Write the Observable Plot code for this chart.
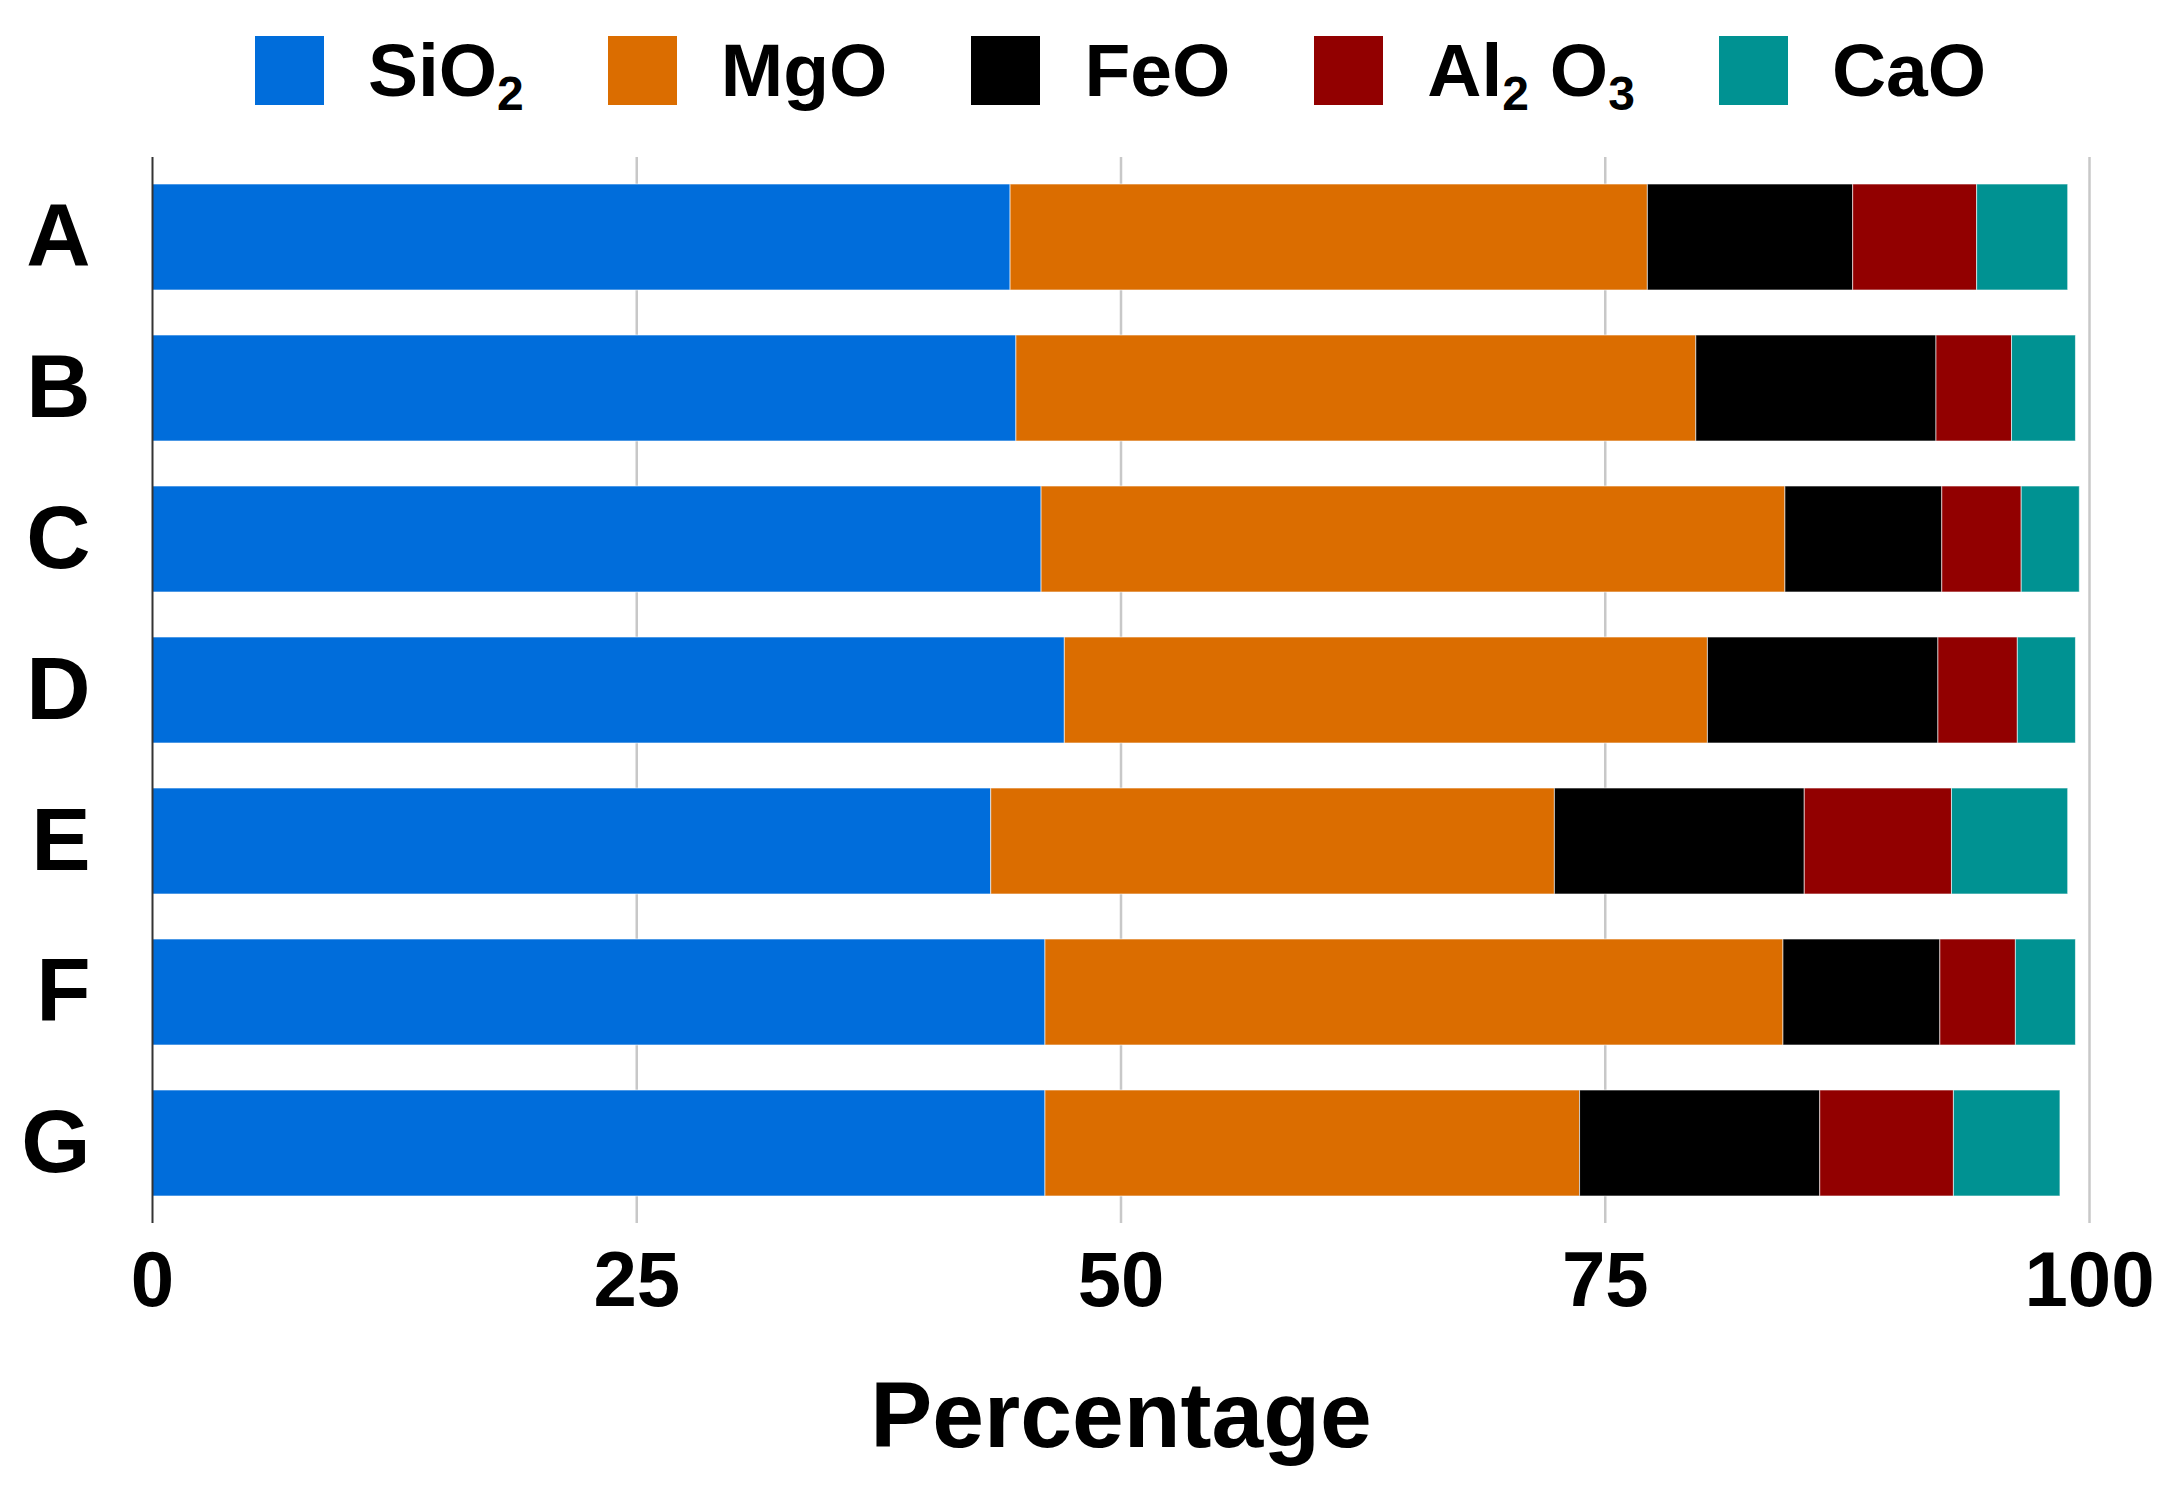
<!DOCTYPE html>
<html>
<head>
<meta charset="utf-8">
<script src="https://cdn.jsdelivr.net/npm/d3@7"></script>
<script src="https://cdn.jsdelivr.net/npm/@observablehq/plot@0.6"></script>
<style>
  html, body { margin: 0; padding: 0; background: #fff; }
  body { width: 2176px; font-family: "Liberation Sans", Arial, sans-serif; }
  #legend {
    height: 130px; box-sizing: border-box; padding: 36px 87px 0 152px;
    display: flex; justify-content: center; align-items: flex-start; gap: 84px;
  }
  .item { display: flex; align-items: flex-start; gap: 44px; }
  .sw { width: 69px; height: 69px; }
  .lbl { font-size: 75px; font-weight: bold; line-height: 69px; color: #000; white-space: nowrap; }
  .lbl .s { font-size: 48px; position: relative; top: 14px; line-height: 0; }
</style>
</head>
<body>
<div id="legend"></div>
<div id="chart"></div>
<script>
const samples = ["A", "B", "C", "D", "E", "F", "G"];
const oxides = ["SiO2", "MgO", "FeO", "Al2O3", "CaO"];
const oxideLabels = ["SiO<span class='s'>2</span>", "MgO", "FeO", "Al<span class='s'>2</span> O<span class='s'>3</span>", "CaO"];
const colors = ["#006ddb", "#db6d00", "#000000", "#920000", "#009292"];
const SiO2  = [44.3, 44.6, 45.9, 47.1, 43.3, 46.1, 46.1];
const MgO   = [32.9, 35.1, 38.4, 33.2, 29.1, 38.1, 27.6];
const FeO   = [10.6, 12.4,  8.1, 11.9, 12.9,  8.1, 12.4];
const Al2O3 = [ 6.4,  3.9,  4.1,  4.1,  7.6,  3.9,  6.9];
const CaO   = [ 4.7,  3.3,  3.0,  3.0,  6.0,  3.1,  5.5];
const xTicks = [0, 25, 50, 75, 100];

const series = [SiO2, MgO, FeO, Al2O3, CaO];
const data = [];
oxides.forEach((ox, i) => samples.forEach((s, j) => data.push({sample: s, oxide: ox, value: series[i][j]})));

// legend
const legend = document.getElementById("legend");
oxides.forEach((ox, i) => {
  const it = document.createElement("div");
  it.className = "item";
  it.innerHTML = `<div class="sw" style="background:${colors[i]}"></div><div class="lbl">${oxideLabels[i]}</div>`;
  legend.appendChild(it);
});

const chart = Plot.plot({
  width: 2176,
  height: 1356,
  marginTop: 27,
  marginBottom: 263,
  marginLeft: 152,
  marginRight: 87,
  style: {background: "#fff", color: "#000", fontFamily: "Liberation Sans, Arial, sans-serif"},
  x: {domain: [0, 100]},
  y: {domain: samples, paddingInner: 0.295, paddingOuter: 0.159},
  color: {domain: oxides, range: colors},
  marks: [
    Plot.gridX(xTicks.filter(d => d > 0), {stroke: "#c8c8c8", strokeOpacity: 1, strokeWidth: 2.5}),
    Plot.barX(data, Plot.stackX({y: "sample", x: "value", fill: "oxide", stroke: "#fff", strokeWidth: 1, strokeOpacity: 0.6})),
    Plot.ruleX([0], {stroke: "#333", strokeWidth: 2}),
    Plot.axisX(xTicks, {tickSize: 0, tickPadding: 27, fontSize: 78, fontWeight: "bold", label: null}),
    Plot.axisY({tickSize: 0, tickPadding: 62, fontSize: 89, fontWeight: "bold", label: null}),
    Plot.text(["Percentage"], {frameAnchor: "bottom", lineAnchor: "top", dy: 157, fontSize: 93, fontWeight: "bold", fill: "#000"})
  ]
});
document.getElementById("chart").appendChild(chart);
</script>
</body>
</html>
